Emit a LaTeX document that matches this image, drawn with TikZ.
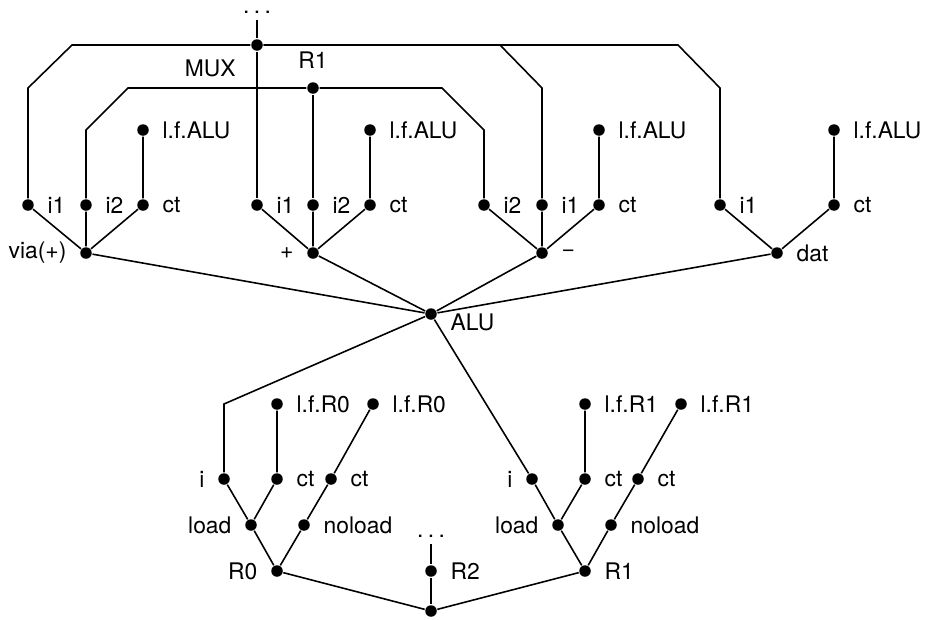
\documentclass[tikz,border=0pt]{standalone}
\usepackage{fontspec}
\setmainfont{TeX Gyre Heros}
\usetikzlibrary{positioning}

\begin{document}
\begin{tikzpicture}[x=0.02cm,y=-0.02cm,line width=0.9pt,
        dot/.style={circle,fill,inner sep=0pt,minimum size=0.23cm},
        txt/.style={font=\fontsize{13}{15}\selectfont,inner xsep=2pt,inner ysep=3.5pt,anchor=south},
        every label/.style={font=\fontsize{13}{15}\selectfont,inner sep=2pt},
        label distance=5pt]
        \useasboundingbox (0,0) rectangle (925,619);
        %mux e r1
        \node[txt] (dotsA) at (257,20) {.\kern2.5pt.\kern2.5pt.};
        \node[dot,label={[xshift=-3.5pt]below left:MUX}] (mux) at (257,45) {};
        \node[dot,label=above:R1] (rone) at (313,88) {};
        %via(+)
        \node[dot,label=right:i1] (vi1) at (28,205) {};
        \node[dot,label=right:i2] (vi2) at (86,205) {};
        \node[dot,label=right:ct] (vct) at (143,205) {};
        \node[dot,label=right:l.f.ALU] (vlf) at (143,130) {};
        \node[dot,label=left:via(+)] (via) at (86,253) {};
        %+
        \node[dot,label=right:i1] (pi1) at (257,205) {};
        \node[dot,label=right:i2] (pi2) at (313,205) {};
        \node[dot,label=right:ct] (pct) at (370,205) {};
        \node[dot,label=right:l.f.ALU] (plf) at (370,130) {};
        \node[dot,label=left:+] (plus) at (313,253) {};
        %-
        \node[dot,label=right:i2] (mi2) at (484,205) {};
        \node[dot,label=right:i1] (mi1) at (542,205) {};
        \node[dot,label=right:ct] (mct) at (599,205) {};
        \node[dot,label=right:l.f.ALU] (mlf) at (599,130) {};
        \node[dot,label=right:−] (minus) at (542,253) {};
        %dat
        \node[dot,label=right:i1] (di1) at (720,205) {};
        \node[dot,label=right:ct] (dct) at (834,205) {};
        \node[dot,label=right:l.f.ALU] (dlf) at (834,130) {};
        \node[dot,label=right:dat] (dat) at (777,253) {};
        %alu
        \node[dot,label={[yshift=-4.5pt]right:ALU}] (alu) at (431,314) {};
        %r0
        \node[dot,label=left:i] (zi) at (224,479) {};
        \node[dot,label=right:ct] (zcta) at (277,479) {};
        \node[dot,label=right:l.f.R0] (zlfa) at (277,404) {};
        \node[dot,label=right:ct] (zctb) at (331,479) {};
        \node[dot,label=right:l.f.R0] (zlfb) at (373,404) {};
        \node[dot,label=left:load] (zload) at (251,525) {};
        \node[dot,label=right:noload] (znoload) at (304,525) {};
        \node[dot,label=left:R0] (rzero) at (277,571) {};
        %r1
        \node[dot,label=left:i] (ui) at (532,479) {};
        \node[dot,label=right:ct] (ucta) at (585,479) {};
        \node[dot,label=right:l.f.R1] (ulfa) at (585,404) {};
        \node[dot,label=right:ct] (uctb) at (638,479) {};
        \node[dot,label=right:l.f.R1] (ulfb) at (681,404) {};
        \node[dot,label=left:load] (uload) at (558,525) {};
        \node[dot,label=right:noload] (unoload) at (611,525) {};
        \node[dot,label=right:R1] (rbot) at (585,571) {};
        %r2 e radice
        \node[txt] (dotsB) at (431,544) {.\kern2.5pt.\kern2.5pt.};
        \node[dot,label=right:R2] (rtwo) at (431,571) {};
        \node[dot] (root) at (431,611) {};

        %collegamenti mux
        \draw (dotsA) -- (mux);
        \draw (mux) -- (72,45) -- (28,88) -- (vi1);
        \draw (mux) -- (pi1);
        \draw (mux) -- (500,45) -- (542,88) -- (mi1);
        \draw (mux) -- (678,45) -- (720,88) -- (di1);
        %collegamenti r1
        \draw (rone) -- (128,88) -- (86,130) -- (vi2);
        \draw (rone) -- (pi2);
        \draw (rone) -- (442,88) -- (484,130) -- (mi2);
        %operazioni
        \draw (vi1) -- (via) -- (vi2);
        \draw (via) -- (vct) -- (vlf);
        \draw (pi1) -- (plus) -- (pi2);
        \draw (plus) -- (pct) -- (plf);
        \draw (mi2) -- (minus) -- (mi1);
        \draw (minus) -- (mct) -- (mlf);
        \draw (di1) -- (dat) -- (dct) -- (dlf);
        %alu
        \draw (via) -- (alu);
        \draw (plus) -- (alu);
        \draw (minus) -- (alu);
        \draw (dat) -- (alu);
        \draw (alu) -- (224,404) -- (zi);
        \draw (alu) -- (ui);
        %registri
        \draw (zi) -- (zload) -- (zcta) -- (zlfa);
        \draw (rzero) -- (zload);
        \draw (rzero) -- (znoload) -- (zctb) -- (zlfb);
        \draw (ui) -- (uload) -- (ucta) -- (ulfa);
        \draw (rbot) -- (uload);
        \draw (rbot) -- (unoload) -- (uctb) -- (ulfb);
        \draw (dotsB) -- (rtwo) -- (root);
        \draw (rzero) -- (root) -- (rbot);
    \end{tikzpicture}
\end{document}
